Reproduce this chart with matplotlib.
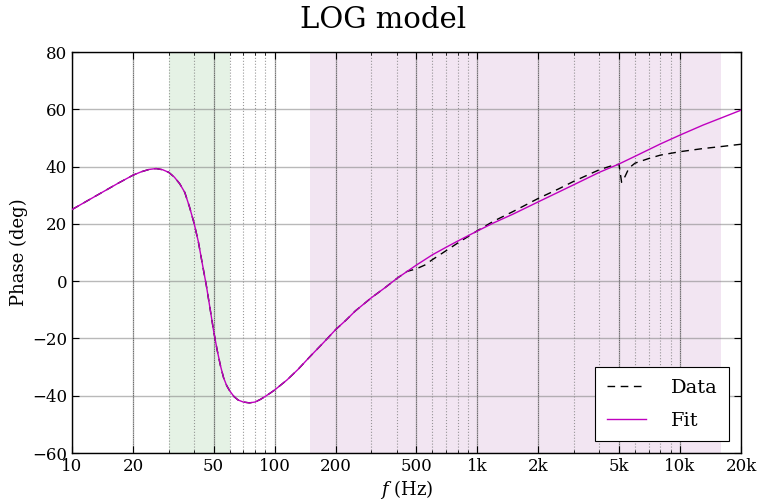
import matplotlib
matplotlib.use("Agg")
import matplotlib.pyplot as plt
from matplotlib.ticker import FixedLocator, NullFormatter

plt.rcParams['font.family'] = ['DejaVu Serif']
plt.rcParams['mathtext.fontset'] = 'dejavuserif'

# ---- data ----
f_low = [10, 12, 14, 17, 20, 22, 24, 26, 28, 30, 32, 34, 36, 38, 40, 42, 44, 46,
         48, 50, 52, 54, 56, 58, 60, 63, 66, 70, 75, 80, 85, 90, 95, 100, 115,
         130, 150, 175, 200, 225, 250, 275, 300, 350, 400]
phase_low = [25.0, 28.2, 30.9, 34.3, 37.0, 38.2, 39.0, 39.3, 38.9, 38.0, 36.3,
             34.0, 31.0, 25.9, 20.3, 13.8, 5.9, -1.5, -9.6, -17.5, -24.0, -29.5,
             -33.8, -36.5, -38.3, -40.3, -41.5, -42.2, -42.5, -42.2, -41.3,
             -40.2, -39.1, -38.0, -34.5, -30.9, -26.2, -21.3, -16.9, -13.6,
             -10.4, -8.0, -5.8, -2.3, 0.9]

f_fit_high = [500, 600, 700, 800, 1000, 1200, 1500, 2000, 2500, 3000, 4000, 5000,
              6000, 8000, 10000, 13000, 16000, 20000]
phase_fit_high = [5.6, 9.2, 11.8, 14.0, 17.5, 20.3, 23.4, 27.7, 31.0, 33.7, 38.0,
                  40.9, 43.6, 47.9, 51.0, 54.5, 57.0, 59.7]

f_data_high = [450, 500, 550, 600, 700, 800, 1000, 1200, 1500, 2000, 2500, 3000,
               4000, 4700, 5000, 5150, 5350, 5600, 6000, 7000, 8000, 10000,
               13000, 16000, 20000]
phase_data_high = [3.4, 4.3, 5.6, 7.5, 10.6, 13.3, 17.6, 20.9, 24.3, 28.9, 32.1,
                   34.9, 38.9, 40.5, 40.8, 34.5, 36.5, 39.5, 41.2, 42.8, 44.0,
                   45.2, 46.3, 47.0, 47.8]

xticks = [10, 20, 50, 100, 200, 500, 1000, 2000, 5000, 10000, 20000]
xticklabels = ['10', '20', '50', '100', '200', '500', '1k', '2k', '5k', '10k', '20k']
xminor = [30, 40, 60, 70, 80, 90, 300, 400, 600, 700, 800, 900,
          3000, 4000, 6000, 7000, 8000, 9000]
yticks = [-60, -40, -20, 0, 20, 40, 60, 80]
green_band = (30, 60)
purple_band = (150, 16000)

f_fit = f_low + f_fit_high
phase_fit = phase_low + phase_fit_high
f_data = f_low + f_data_high
phase_data = phase_low + phase_data_high

# ---- figure ----
fig = plt.figure(figsize=(7.58, 5.03), dpi=100)
ax = fig.add_axes([0.095, 0.0994, 0.8826, 0.7972])

ax.axvspan(*green_band, color='g', alpha=0.1, lw=0, zorder=0)
ax.axvspan(*purple_band, color='purple', alpha=0.1, lw=0, zorder=0)

ax.set_xscale('log')
ax.set_xlim(10, 20000)
ax.set_ylim(-60, 80)

ax.xaxis.set_major_locator(FixedLocator(xticks))
ax.set_xticklabels(xticklabels)
ax.xaxis.set_minor_locator(FixedLocator(xminor))
ax.xaxis.set_minor_formatter(NullFormatter())
ax.set_yticks(yticks)

# grids
ax.grid(True, which='major', axis='both', color='gray', ls='-', lw=1.0, alpha=0.55, zorder=1)
ax.grid(True, which='minor', axis='x', color='gray', ls=':', lw=0.8, alpha=0.8, zorder=1)
for xv in xticks[1:-1]:
    ax.axvline(xv, color='k', ls=':', lw=0.6, alpha=0.6, zorder=1)
ax.set_axisbelow(True)

ax.plot(f_data, phase_data, color='k', ls='--', dashes=(5.5, 4), lw=1.0, label='Data', zorder=3)
ax.plot(f_fit, phase_fit, color='m', ls='-', lw=1.0, label='Fit', zorder=4)

ax.tick_params(which='both', direction='in', top=True, right=True, labelsize=12)
ax.tick_params(which='major', length=5, width=0.8)
ax.tick_params(which='minor', length=2.5, width=0.6)
for s in ax.spines.values():
    s.set_linewidth(1.0)

fig.suptitle('LOG model', fontsize=21, x=0.505, y=0.96, va='center')
ax.set_xlabel('$f$ (Hz)', fontsize=13, labelpad=2)
ax.set_ylabel('Phase (deg)', fontsize=13, labelpad=3)

leg = ax.legend(loc='lower right', fontsize=14, fancybox=False, framealpha=1,
                edgecolor='k', handlelength=2.0, handletextpad=1.3,
                borderpad=0.6, labelspacing=0.75, borderaxespad=0.6)
leg.get_frame().set_linewidth(0.8)

fig.savefig('out.png', dpi=100)
